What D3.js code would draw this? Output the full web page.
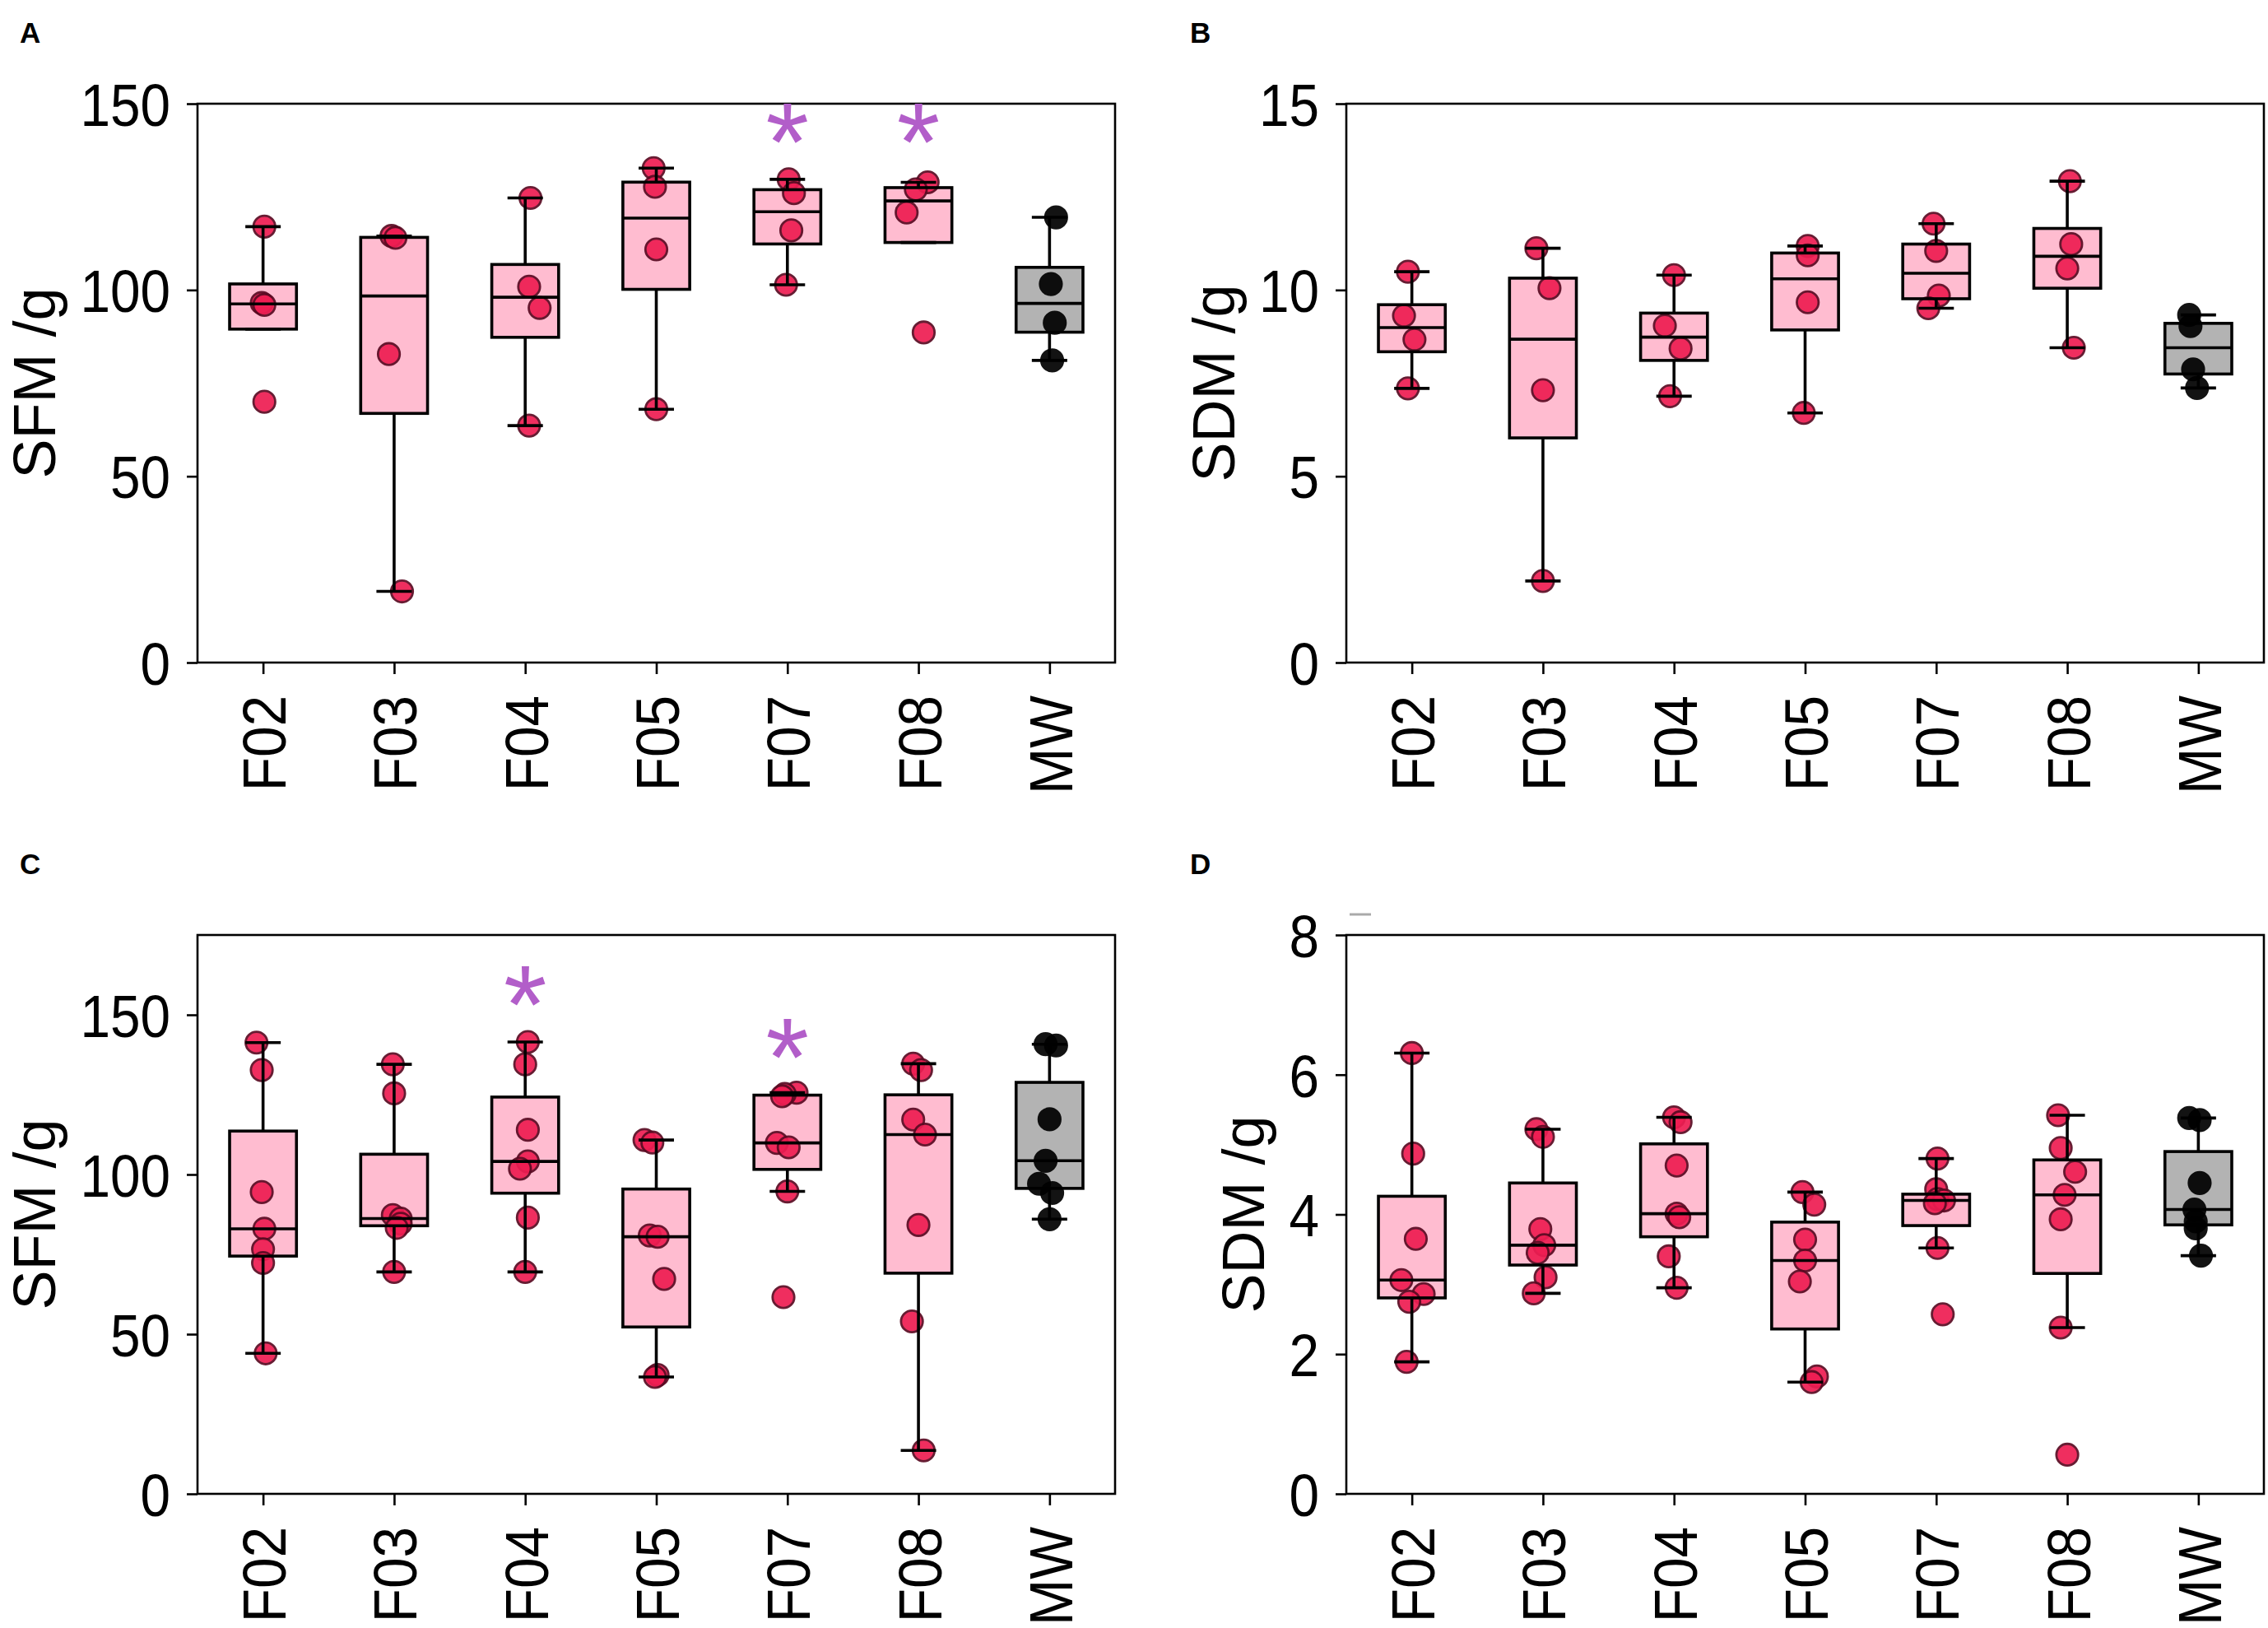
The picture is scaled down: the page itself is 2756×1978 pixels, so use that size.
<!DOCTYPE html>
<html>
<head>
<meta charset="utf-8">
<title>SFM / SDM box plots</title>
<script src="https://cdn.jsdelivr.net/npm/d3@7"></script>
<style>
  body { margin: 0; background: #fff; }
  text { font-family: "Liberation Sans", Arial, Helvetica, sans-serif; fill: #000; }
  .panel-letter { font-size: 35px; font-weight: bold; }
  .axis-title { font-size: 72px; }
  .star { font-size: 135px; fill: #b25ec9; }
</style>
</head>
<body>
<script>
var categories = ["F02", "F03", "F04", "F05", "F07", "F08", "MW"];

// A: SFM, season 1 (4 plants per line)
var sfmA = [
  [117, 96.5, 96, 70],
  [114.5, 114, 82.8, 19.1],
  [124.7, 100.9, 95.2, 63.6],
  [132.7, 127.7, 110.9, 68],
  [129.7, 126, 116, 101.4],
  [128.9, 127, 120.8, 88.6],
  [119.5, 101.6, 91.2, 81.1]
];
// B: SDM, season 1
var sdmB = [
  [10.49, 9.31, 8.67, 7.36],
  [11.12, 10.05, 7.31, 2.19],
  [10.4, 9.04, 8.43, 7.15],
  [11.18, 10.93, 9.67, 6.7],
  [11.78, 11.05, 9.85, 9.51],
  [12.92, 11.23, 10.58, 8.45],
  [9.33, 9.03, 7.87, 7.37]
];
// C: SFM, season 2 (7 plants per line)
var sfmC = [
  [141.3, 132.7, 94.5, 83.0, 76.6, 72.3, 44.0],
  [134.5, 125.4, 87.3, 86.2, 84.6, 83.3, 69.5],
  [141.5, 134.5, 114, 104.1, 101.8, 86.5, 69.5],
  [110.8, 110, 80.9, 80.5, 67.3, 37.2, 36.6],
  [125.6, 125.2, 124.5, 109.9, 108.5, 94.7, 61.6],
  [134.7, 132.7, 117.2, 112.5, 84.2, 54.0, 13.6],
  [140.8, 140.4, 117.3, 104.3, 97.1, 94.2, 86.0]
];
// D: SDM, season 2
var sdmD = [
  [6.31, 4.87, 3.65, 3.06, 2.86, 2.75, 1.89],
  [5.22, 5.11, 3.79, 3.56, 3.45, 3.1, 2.87],
  [5.39, 5.32, 4.7, 4.01, 3.96, 3.4, 2.95],
  [4.32, 4.14, 3.64, 3.34, 3.04, 1.68, 1.6],
  [4.8, 4.36, 4.22, 4.2, 4.16, 3.52, 2.57],
  [5.42, 4.95, 4.61, 4.28, 3.93, 2.38, 0.56],
  [5.38, 5.35, 4.45, 4.07, 3.9, 3.8, 3.41]
];

// horizontal strip jitter, as a fraction of the category step
var jitterA = [
  [0.01, -0.01, 0.01, 0.01], [-0.02, 0.01, -0.04, 0.06], [0.04, 0.03, 0.11, 0.03],
  [-0.02, -0.01, 0, 0], [0.01, 0.05, 0.03, -0.01], [0.07, -0.02, -0.09, 0.04],
  [0.05, 0.01, 0.04, 0.02]
];
var jitterB = [
  [-0.03, -0.06, 0.02, -0.03], [-0.05, 0.05, 0, 0], [0, -0.07, 0.05, -0.03],
  [0.02, 0.02, 0.02, -0.01], [-0.02, 0, 0.02, -0.06], [0.02, 0.03, 0, 0.05],
  [-0.07, -0.06, -0.04, -0.01]
];
var jitterC = [
  [-0.05, -0.01, -0.01, 0.01, 0, 0, 0.02], [-0.01, 0, -0.01, 0.05, 0.05, 0.02, 0],
  [0.02, 0, 0.02, 0.02, -0.04, 0.02, 0], [-0.09, -0.03, -0.05, 0.01, 0.06, 0.01, -0.01],
  [0.07, -0.02, -0.04, -0.08, 0.01, 0, -0.03], [-0.04, 0.02, -0.04, 0.05, 0, -0.05, 0.04],
  [-0.03, 0.05, 0, -0.03, -0.08, 0.02, 0]
];
var jitterD = [
  [0, 0.01, 0.03, -0.08, 0.09, -0.02, -0.04], [-0.05, 0, -0.02, 0.01, -0.04, 0.02, -0.07],
  [0, 0.05, 0.02, 0.02, 0.04, -0.04, 0.02], [-0.02, 0.07, 0, 0, -0.04, 0.09, 0.05],
  [0.01, 0, 0.01, 0.06, -0.01, 0.01, 0.05], [-0.07, -0.05, 0.06, -0.02, -0.05, -0.05, 0],
  [-0.07, 0.01, 0.01, -0.03, -0.02, -0.02, 0.02]
];

// significance marks
var starCatsA = ["F07", "F08"], starValsA = [144, 144];
var starCatsC = ["F04", "F07"], starValsC = [158.3, 141.9];

var ticksSFM1 = [0, 50, 100, 150];
var ticksSDM1 = [0, 5, 10, 15];
var ticksSFM2 = [0, 50, 100, 150];
var ticksSDM2 = [0, 2, 4, 6, 8];

var width = 2756, height = 1978;
var svg = d3.select("body").append("svg")
  .attr("width", width).attr("height", height)
  .style("background", "#fff");

var panels = [
  {letter: "A", lx: 24, ly: 52, title: "SFM /g", values: sfmA, jitter: jitterA, max: 150, ticks: ticksSFM1,
   starCats: starCatsA, starVals: starValsA, x0: 240, x1: 1355, y0: 126, y1: 805},
  {letter: "B", lx: 1446, ly: 52, title: "SDM /g", values: sdmB, jitter: jitterB, max: 15, ticks: ticksSDM1,
   starCats: [], starVals: [], x0: 1636, x1: 2751, y0: 126, y1: 805},
  {letter: "C", lx: 24, ly: 1062, title: "SFM /g", values: sfmC, jitter: jitterC, max: 175, ticks: ticksSFM2,
   starCats: starCatsC, starVals: starValsC, x0: 240, x1: 1355, y0: 1136, y1: 1815},
  {letter: "D", lx: 1446, ly: 1062, title: "SDM /g", values: sdmD, jitter: jitterD, max: 8, ticks: ticksSDM2,
   starCats: [], starVals: [], x0: 1636, x1: 2751, y0: 1136, y1: 1815}
];

var pink = "#ffbcd0", grey = "#b3b3b3";
var dotFill = "#ee1d52", dotEdge = "#5a0a22";
var squeeze = 0.9;   // the tick font is a little narrower than Arial

function boxStats(vals) {
  var s = vals.slice().sort(d3.ascending);
  var q1 = d3.quantile(s, 0.25), med = d3.quantile(s, 0.5), q3 = d3.quantile(s, 0.75);
  var iqr = q3 - q1;
  var hi = d3.max(s.filter(function(v) { return v <= q3 + 1.5 * iqr; }));
  var lo = d3.min(s.filter(function(v) { return v >= q1 - 1.5 * iqr; }));
  if (hi < q3) hi = q3;
  if (lo > q1) lo = q1;
  return {q1: q1, med: med, q3: q3, lo: lo, hi: hi};
}

panels.forEach(function(p) {
  var x = d3.scalePoint().domain(categories).range([p.x0, p.x1]).padding(0.5);
  var y = d3.scaleLinear().domain([0, p.max]).range([p.y1, p.y0]);
  var step = x.step();
  var boxW = step * 0.51, capW = step * 0.27;
  var g = svg.append("g");

  var stats = p.values.map(boxStats);

  // box fills under the points
  g.selectAll(".boxfill").data(categories).enter().append("rect")
    .attr("x", function(c) { return x(c) - boxW / 2; })
    .attr("y", function(c, i) { return y(stats[i].q3); })
    .attr("width", boxW)
    .attr("height", function(c, i) { return y(stats[i].q1) - y(stats[i].q3); })
    .attr("fill", function(c) { return c === "MW" ? grey : pink; });

  // points
  categories.forEach(function(c, i) {
    g.selectAll(null).data(p.values[i]).enter().append("circle")
      .attr("cx", function(v, j) { return x(c) + p.jitter[i][j] * step; })
      .attr("cy", function(v) { return y(v); })
      .attr("r", 13.2)
      .attr("fill", c === "MW" ? "#000" : dotFill)
      .attr("stroke", c === "MW" ? "#000" : dotEdge)
      .attr("stroke-width", 2.8)
      .attr("opacity", 0.92);
  });

  // box outlines, medians, whiskers and caps on top
  var lines = g.append("g").attr("stroke", "#000").attr("stroke-width", 3.6).attr("fill", "none");
  categories.forEach(function(c, i) {
    var s = stats[i], cx = x(c);
    lines.append("rect")
      .attr("x", cx - boxW / 2).attr("y", y(s.q3))
      .attr("width", boxW).attr("height", y(s.q1) - y(s.q3));
    lines.append("line").attr("x1", cx - boxW / 2).attr("x2", cx + boxW / 2)
      .attr("y1", y(s.med)).attr("y2", y(s.med));
    lines.append("line").attr("x1", cx).attr("x2", cx).attr("y1", y(s.q3)).attr("y2", y(s.hi));
    lines.append("line").attr("x1", cx).attr("x2", cx).attr("y1", y(s.q1)).attr("y2", y(s.lo));
    [s.hi, s.lo].forEach(function(w) {
      lines.append("line").attr("x1", cx - capW / 2).attr("x2", cx + capW / 2)
        .attr("y1", y(w)).attr("y2", y(w));
    });
  });

  // frame
  g.append("rect")
    .attr("x", p.x0).attr("y", p.y0)
    .attr("width", p.x1 - p.x0).attr("height", p.y1 - p.y0)
    .attr("fill", "none").attr("stroke", "#000").attr("stroke-width", 2.6);

  // axes
  var yAxis = g.append("g").attr("transform", "translate(" + p.x0 + ",0)")
    .call(d3.axisLeft(y).tickValues(p.ticks).tickSize(13).tickFormat(d3.format("d")));
  var xAxis = g.append("g").attr("transform", "translate(0," + p.y1 + ")")
    .call(d3.axisBottom(x).tickSize(14));
  [yAxis, xAxis].forEach(function(a) {
    a.attr("font-size", null).attr("font-family", null);
    a.select(".domain").remove();
    a.selectAll(".tick line").attr("stroke", "#000").attr("stroke-width", 2.6);
    a.selectAll(".tick text").attr("fill", "#000");
  });
  yAxis.selectAll(".tick text")
    .style("font-size", "73px")
    .attr("x", 0).attr("dy", "0.36em")
    .attr("transform", "translate(-33,0) scale(" + squeeze + ",1)");
  xAxis.selectAll(".tick text")
    .style("font-size", "75px")
    .attr("transform", "rotate(-90) scale(" + squeeze + ",1)")
    .attr("x", -40 / squeeze).attr("y", 0).attr("dy", "0.36em")
    .style("text-anchor", "end");

  // y title, placed left of the widest tick label
  var bb = yAxis.node().getBBox();
  g.append("text").attr("class", "axis-title")
    .attr("transform", "translate(" + (p.x0 + bb.x - 30) + "," + ((p.y0 + p.y1) / 2) + ") rotate(-90)")
    .style("text-anchor", "middle")
    .text(p.title);

  // asterisks
  g.selectAll(".star").data(p.starCats).enter().append("text")
    .attr("class", "star")
    .attr("x", function(c) { return x(c); })
    .attr("y", function(c, i) { return y(p.starVals[i]); })
    .attr("dy", "0.49em")
    .style("text-anchor", "middle")
    .text("*");

  svg.append("text").attr("class", "panel-letter")
    .attr("x", p.lx).attr("y", p.ly).text(p.letter);
});

// small grey dash above panel D
svg.append("line").attr("x1", 1640).attr("x2", 1666).attr("y1", 1111).attr("y2", 1111)
  .attr("stroke", "#aaa").attr("stroke-width", 3);
</script>
</body>
</html>
